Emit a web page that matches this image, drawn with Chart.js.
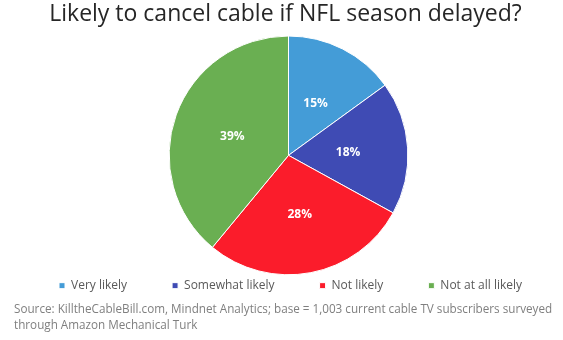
<!DOCTYPE html>
<html><head><meta charset="utf-8">
<script src="https://cdn.jsdelivr.net/npm/chart.js@4/dist/chart.umd.min.js"></script>
<style>html,body{margin:0;padding:0;background:#fff}#wrap{width:563px;height:340px}</style>
</head><body><div id="wrap"><canvas id="c" width="563" height="340"></canvas></div>
<script>
const categories = ['Very likely', 'Somewhat likely', 'Not likely', 'Not at all likely'];
const values = [15, 18, 28, 39];
const colors = ['#449CD7', '#3F4BB4', '#FB1C2B', '#6AAF52'];
const titleText = 'Likely to cancel cable if NFL season delayed?';
const sourceLines = [
  'Source: KilltheCableBill.com, Mindnet Analytics; base = 1,003 current cable TV subscribers surveyed',
  'through Amazon Mechanical Turk'
];

const FONT = '"Open Sans", "Noto Sans", sans-serif';
const LEGEND_PAD = 45, LEGEND_H = 24, LEGEND_TOP = 4.4;
const TITLE_SHIFT = -3;

const boxTweak = {
  id: 'boxTweak',
  beforeLayout(chart) {
    const lg = chart.legend;
    if (lg && !lg._tweaked) {
      lg._tweaked = true;
      const fit = lg.fit;
      lg.fit = function () {
        const mw = this.maxWidth;
        this.maxWidth = mw + 100;
        fit.call(this);
        this.maxWidth = mw;
        this.width = mw;
        this.height = LEGEND_H;
      };
      const draw = lg.draw;
      lg.draw = function () {
        const t = this.top, r = this.right;
        this.top = t + LEGEND_TOP - LEGEND_PAD;
        this.right = r + 100;
        draw.call(this);
        this.top = t;
        this.right = r;
      };
    }
    const tb = chart.titleBlock;
    if (tb && !tb._tweaked) {
      tb._tweaked = true;
      const tdraw = tb.draw;
      tb.draw = function () {
        const l = this.left, r = this.right;
        this.left = l + TITLE_SHIFT; this.right = r + TITLE_SHIFT;
        tdraw.call(this);
        this.left = l; this.right = r;
      };
    }
  }
};

const sliceLabels = {
  id: 'sliceLabels',
  afterDatasetsDraw(chart) {
    const ctx = chart.ctx;
    const meta = chart.getDatasetMeta(0);
    ctx.save();
    ctx.fillStyle = '#ffffff';
    ctx.font = 'bold 12px ' + FONT;
    ctx.textAlign = 'center';
    ctx.textBaseline = 'middle';
    meta.data.forEach((arc, i) => {
      const p = arc.tooltipPosition();
      ctx.fillText(values[i] + '%', p.x, p.y + 1);
    });
    ctx.restore();
  }
};

new Chart(document.getElementById('c'), {
  type: 'pie',
  data: {
    labels: categories,
    datasets: [{
      data: values,
      backgroundColor: colors,
      borderColor: '#ffffff',
      borderWidth: 1
    }]
  },
  options: {
    responsive: false,
    animation: false,
    devicePixelRatio: 1,
    layout: { padding: { left: 14, right: 0, top: 0, bottom: 0 } },
    plugins: {
      title: {
        display: true,
        text: titleText,
        color: '#262626',
        font: { family: FONT, size: 23, weight: 'normal', lineHeight: 1.2 },
        padding: { top: 0.5, bottom: 7.4 }
      },
      subtitle: {
        display: true,
        position: 'bottom',
        align: 'start',
        text: sourceLines,
        color: '#7F7F7F',
        font: { family: FONT, size: 11.7, weight: 'normal', lineHeight: 1.37 },
        padding: { top: 2, bottom: 6.7 }
      },
      legend: {
        position: 'bottom',
        align: 'start',
        labels: {
          boxWidth: 6,
          boxHeight: 6,
          padding: LEGEND_PAD,
          color: '#595959',
          font: { family: FONT, size: 12 }
        }
      },
      tooltip: { enabled: false }
    }
  },
  plugins: [boxTweak, sliceLabels]
});
</script>
</body></html>
